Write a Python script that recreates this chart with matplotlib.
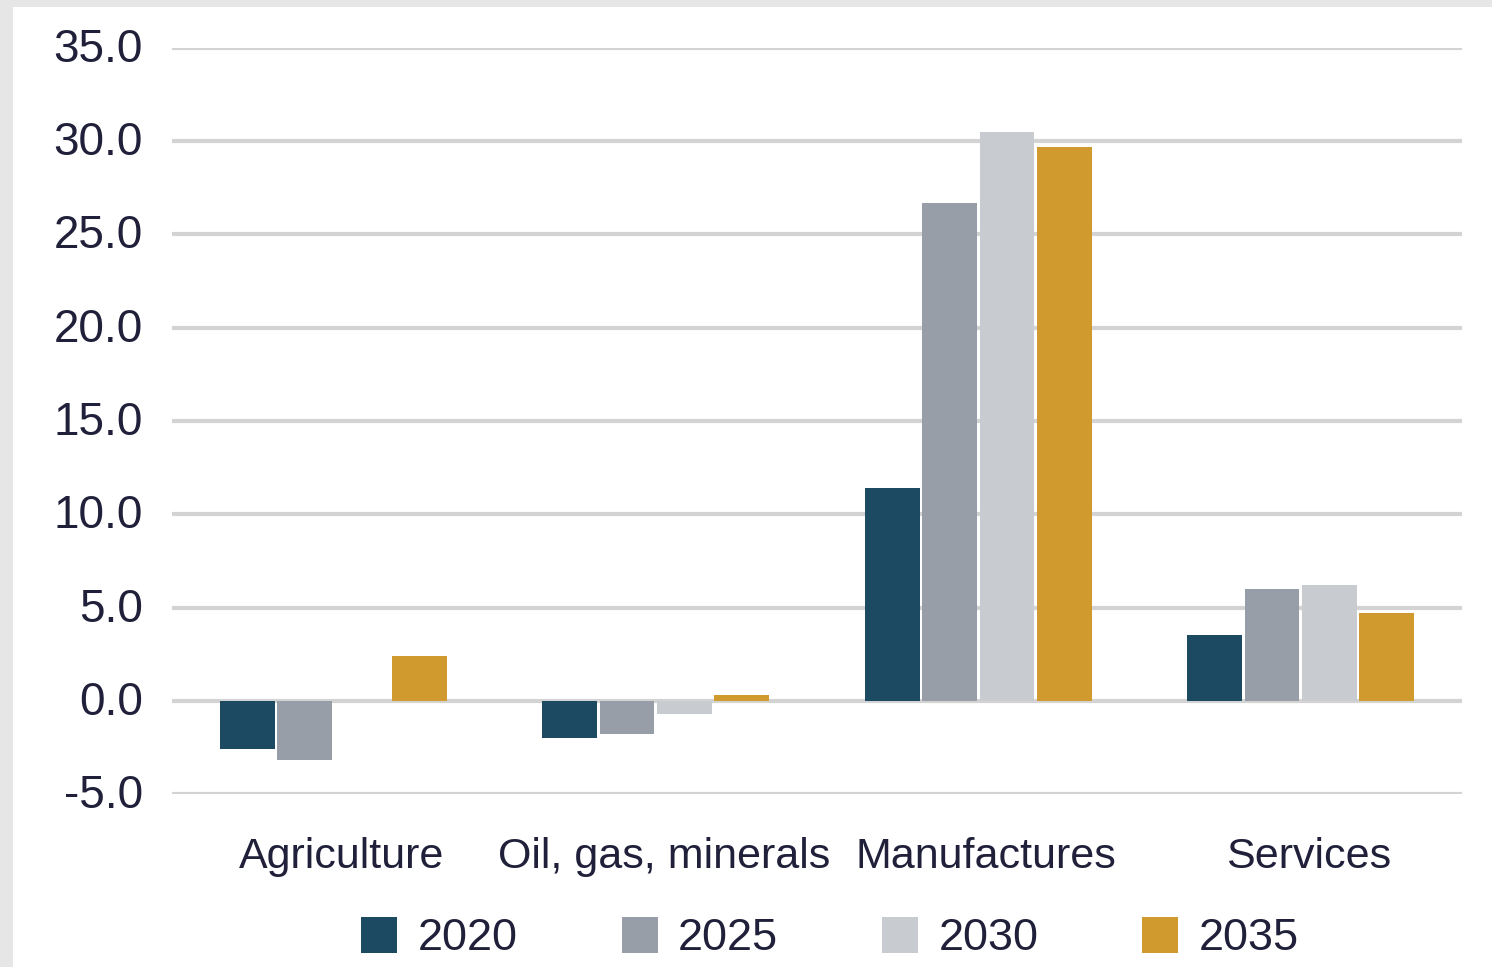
import numpy as np
import matplotlib.pyplot as plt
import matplotlib.transforms as mtransforms
from matplotlib.patches import Rectangle

categories = ["Agriculture", "Oil, gas, minerals", "Manufactures", "Services"]
years = ["2020", "2025", "2030", "2035"]
v2020 = [-2.6, -2.0, 11.4, 3.5]
v2025 = [-3.2, -1.8, 26.7, 6.0]
v2030 = [0.0, -0.7, 30.5, 6.2]
v2035 = [2.4, 0.3, 29.7, 4.7]
colors = ["#1d4a63", "#979ea8", "#c8cbcf", "#d09a2e"]

plt.rcParams['font.family'] = ['Liberation Sans', 'DejaVu Sans']
txt = '#20203a'

fig = plt.figure(figsize=(14.92, 9.67), dpi=100)
fig.patch.set_facecolor('#e6e6e6')
fig.patches.append(Rectangle((13/1492, 0), 1, 1 - 7/967, transform=fig.transFigure,
                             facecolor='white', edgecolor='none', zorder=-5))

ax = fig.add_axes([172/1492, 1 - 794/967, 1290/1492, 746/967])
ax.set_facecolor('none')

x = np.arange(len(categories))
step = 0.178
width = 0.17
for i, (vals, yr) in enumerate(zip([v2020, v2025, v2030, v2035], years)):
    ax.bar(x + (i - 1.5) * step, vals, width, color=colors[i], label=yr, zorder=3)

ax.set_xlim(-0.5, 3.5)
ax.set_ylim(-5, 35)
ax.set_yticks(np.arange(-5, 36, 5))
ax.set_yticklabels([f"{t:.1f}" for t in np.arange(-5, 36, 5)])
ax.yaxis.grid(True, color='#d3d3d3', linewidth=3, zorder=1)
ax.set_axisbelow(True)
ax.set_xticks(x)
ax.set_xticklabels(categories)
for s in ax.spines.values():
    s.set_visible(False)
ax.tick_params(axis='y', length=0, pad=21, labelsize=33, labelcolor=txt)
ax.tick_params(axis='x', length=0, pad=31, labelsize=31, labelcolor=txt)

# labels sit a little right of the bar groups in the original
for lab in ax.get_xticklabels():
    lab.set_transform(lab.get_transform() + mtransforms.ScaledTranslation(0.08, 0, fig.dpi_scale_trans))
for lab in ax.get_yticklabels():
    lab.set_transform(lab.get_transform() + mtransforms.ScaledTranslation(0, 0.03, fig.dpi_scale_trans))

fig.legend(loc='center', bbox_to_anchor=(830/1492, 1 - 938/967), ncol=4,
           frameon=False, fontsize=32.5, handlelength=0.8, handleheight=0.85,
           handletextpad=0.45, columnspacing=2.3, labelcolor=txt)

plt.savefig("out.png", dpi=100, facecolor=fig.get_facecolor())
